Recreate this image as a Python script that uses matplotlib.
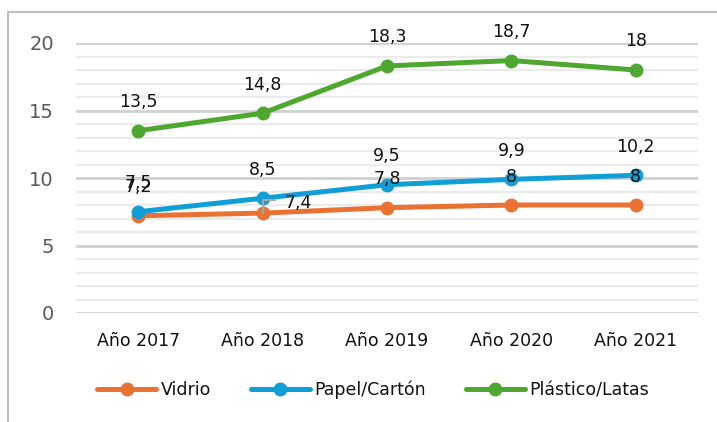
import matplotlib.pyplot as plt
import numpy as np
from matplotlib.patches import Rectangle

years = ['Año 2017', 'Año 2018', 'Año 2019', 'Año 2020', 'Año 2021']
vidrio = [7.2, 7.4, 7.8, 8, 8]
papel = [7.5, 8.5, 9.5, 9.9, 10.2]
plastico = [13.5, 14.8, 18.3, 18.7, 18]
series_names = ['Vidrio', 'Papel/Cartón', 'Plástico/Latas']
colors = ['#E97132', '#0F9ED5', '#4EA72E']

plt.rcParams['font.family'] = ['DejaVu Sans']

fig = plt.figure(figsize=(7.17, 4.22), dpi=100)
ax = fig.add_axes([76/717, 1-313/422, (698-76)/717, (313-43)/422])

x = np.arange(len(years))
lines = []
for vals, name, c in zip([vidrio, papel, plastico], series_names, colors):
    ln, = ax.plot(x, vals, color=c, lw=3.6, marker='o', markersize=9,
                  solid_capstyle='round', label=name, zorder=3)
    lines.append(ln)

# data labels
for si, vals in enumerate([vidrio, papel, plastico]):
    for i, v in enumerate(vals):
        txt = ('%g' % v).replace('.', ',')
        if si == 0 and i == 1:
            # label moved to the side, with a leader line
            ax.annotate(txt, (x[i], v), xytext=(22, 10), textcoords='offset pixels',
                        ha='left', va='center', fontsize=12.5, color='#111111', zorder=6)
            ax.annotate('', (x[i], v), xytext=(12, 13), textcoords='offset pixels',
                        zorder=6,
                        arrowprops=dict(arrowstyle='-', color='#a6a6a6', lw=1.6,
                                        connectionstyle='angle,angleA=0,angleB=90,rad=0',
                                        shrinkA=0, shrinkB=0))
        else:
            ax.annotate(txt, (x[i], v), xytext=(0, 28.5), textcoords='offset pixels',
                        ha='center', va='center', fontsize=12.5, color='#111111', zorder=6)

ax.set_xlim(-0.5, 4.5)
ax.set_ylim(0, 20)
ax.set_yticks([0, 5, 10, 15, 20])
ax.set_yticks(np.arange(0, 21, 1), minor=True)
ax.set_xticks(x)
ax.set_xticklabels(years)
ax.grid(axis='y', which='major', color='#d0d0d0', lw=2, zorder=0)
ax.grid(axis='y', which='minor', color='#ebebeb', lw=1.6, zorder=0)
ax.set_axisbelow(True)
ax.tick_params(axis='y', which='both', length=0, pad=16, labelsize=14, labelcolor='#595959')
ax.tick_params(axis='x', which='both', length=0, pad=14, labelsize=12.5, labelcolor='#111111')
for s in ax.spines.values():
    s.set_visible(False)

fig.legend(handles=lines, labels=series_names, loc='center',
           bbox_to_anchor=(373/717, 1-390/422), ncol=3, frameon=False,
           fontsize=12.5, handlelength=3.4, handletextpad=0.25, columnspacing=2.3,
           labelcolor='#111111')

# outer chart border (cropped)
fig.patches.append(Rectangle((8/717, -0.2), 1.2, 1.2 - 12/422,
                             transform=fig.transFigure, fill=False,
                             edgecolor='#bfbfbf', lw=1.5))

fig.savefig('out.png', dpi=100)
